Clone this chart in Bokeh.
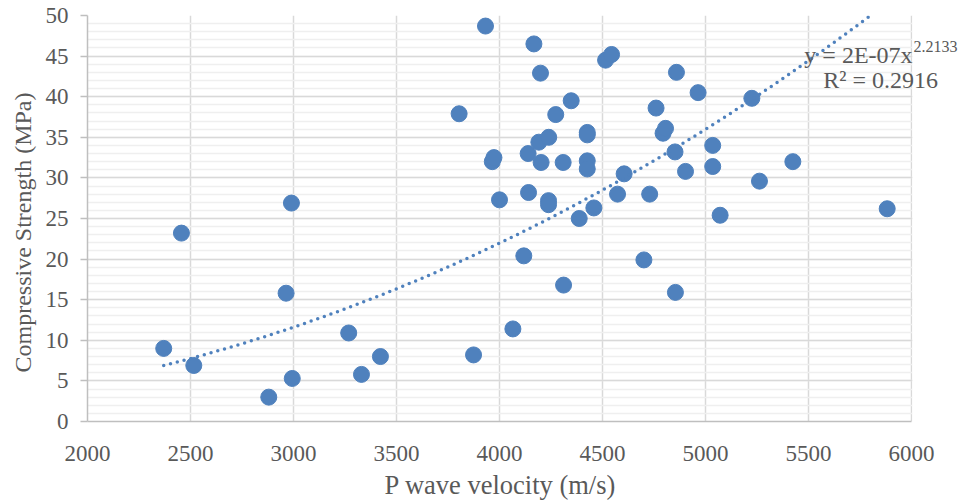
import numpy as np
from bokeh.plotting import figure
from bokeh.models import (SingleIntervalTicker, Range1d, Label, ColumnDataSource,
                          BoxAnnotation, Title)
from bokeh.embed import file_html
from bokeh.resources import INLINE

# ---- data ----
p_wave_velocity = [
    2370, 2456, 2516, 2880, 2964, 2990, 2994, 3268, 3330, 3422,
    3804, 3874, 3932, 3965, 3973, 4000, 4065, 4118, 4139, 4141,
    4167, 4191, 4199, 4202, 4238, 4238, 4239, 4273, 4309, 4311,
    4348, 4387, 4426, 4426, 4426, 4426, 4458, 4515, 4544, 4573,
    4605, 4701, 4729, 4760, 4794, 4806, 4852, 4854, 4859, 4903,
    4964, 5035, 5035, 5071, 5225, 5262, 5424, 5882,
]
compressive_strength = [
    9.0, 23.2, 6.9, 3.0, 15.8, 26.9, 5.3, 10.9, 5.8, 8.0,
    37.9, 8.2, 48.7, 32.0, 32.5, 27.3, 11.4, 20.4, 33.0, 28.2,
    46.5, 34.4, 42.9, 31.9, 27.2, 26.7, 35.0, 37.8, 31.9, 16.8,
    39.5, 25.0, 35.6, 35.3, 32.1, 31.1, 26.3, 44.5, 45.2, 28.0,
    30.5, 19.9, 28.0, 38.6, 35.5, 36.1, 33.2, 15.9, 43.0, 30.8,
    40.5, 34.0, 31.4, 25.4, 39.8, 29.6, 32.0, 26.2,
]
trend_coef = 2.34e-7      # displayed rounded as 2E-07
trend_exp = 2.2133
equation_text = "y = 2E-07x"
equation_sup = "2.2133"
r2_text = "R\u00b2 = 0.2916"
x_title = "P wave velocity (m/s)"
y_title = "Compressive Strength (MPa)"

X_MIN, X_MAX = 2000, 6000
Y_MIN, Y_MAX = 0, 50

FONT = "Liberation Serif"
GREY_TXT = "#595959"
BLUE = "#4F81BD"

# the frame runs to the window's right edge so that the trendline label can
# overhang the plot area as in the reference; the area past 6000 is masked
FRAME_LEFT, FRAME_RIGHT_DATA_PX, WIDTH = 87, 911, 959
x_end = X_MIN + (WIDTH - FRAME_LEFT) * (X_MAX - X_MIN) / (FRAME_RIGHT_DATA_PX - FRAME_LEFT)

p = figure(width=WIDTH, height=503, output_backend="svg", toolbar_location=None,
           x_range=Range1d(X_MIN, x_end), y_range=Range1d(Y_MIN, Y_MAX),
           min_border_left=FRAME_LEFT, min_border_right=0, min_border_top=15,
           min_border_bottom=82)
p.outline_line_color = None
p.background_fill_color = "white"
p.border_fill_color = "white"

p.xaxis.ticker = SingleIntervalTicker(interval=500, num_minor_ticks=0)
p.yaxis.ticker = SingleIntervalTicker(interval=5, num_minor_ticks=5)
p.xaxis.bounds = (X_MIN, X_MAX)

for ax in (p.xaxis[0], p.yaxis[0]):
    ax.axis_line_color = "#BFBFBF"
    ax.axis_line_width = 1.5
    ax.major_tick_line_color = "#BFBFBF"
    ax.major_tick_line_width = 1.5
    ax.minor_tick_line_color = None
    ax.major_label_text_font = FONT
    ax.major_label_text_font_size = "23px"
    ax.major_label_text_color = GREY_TXT

p.xaxis.major_tick_out = 0
p.xaxis.major_tick_in = 0
p.xaxis.major_label_standoff = 24

p.yaxis.major_tick_out = 7
p.yaxis.major_tick_in = 0
p.yaxis.major_label_standoff = 12

title_style = dict(text_font=FONT, text_font_style="normal", text_color=GREY_TXT)

# x axis title, centred under the 2000-6000 plot area
p.add_layout(Title(text=x_title, align="left", offset=297, standoff=8,
                   text_font_size="26.5px", **title_style), "below")
# y axis title
p.add_layout(Title(text=y_title, align="left", offset=49, standoff=13,
                   text_font_size="24px", **title_style), "left")

p.xgrid.grid_line_color = "#D9D9D9"
p.xgrid.grid_line_width = 1.5
p.ygrid.grid_line_color = "#D9D9D9"
p.ygrid.grid_line_width = 1.5
p.ygrid.minor_grid_line_color = "#EFEFEF"
p.ygrid.minor_grid_line_width = 1.5

# scatter points
src = ColumnDataSource(dict(x=p_wave_velocity, y=compressive_strength))
p.scatter("x", "y", source=src, size=16, fill_color=BLUE, line_color=BLUE,
          line_width=1)

# power trendline
xs = np.linspace(min(p_wave_velocity), max(p_wave_velocity), 300)
ys = trend_coef * xs ** trend_exp
p.line(xs, ys, line_color=BLUE, line_width=3.5, line_dash="0 7", line_cap="round")

# mask beyond the plot area's right edge
p.add_layout(BoxAnnotation(left=X_MAX + 4, fill_color="white", fill_alpha=1.0,
                           line_color=None))

# trendline label
p.add_layout(Label(x=6005, y=45.15, text=equation_text, text_align="right",
                   text_baseline="alphabetic", text_font=FONT,
                   text_font_size="24px", text_color=GREY_TXT))
p.add_layout(Label(x=6010, y=46.2, text=equation_sup, text_align="left",
                   text_baseline="alphabetic", text_font=FONT,
                   text_font_size="16px", text_color=GREY_TXT))
p.add_layout(Label(x=5850, y=42.0, text=r2_text, text_align="center",
                   text_baseline="alphabetic", text_font=FONT,
                   text_font_size="24px", text_color=GREY_TXT))

open("out.html", "w").write(file_html(p, INLINE))
